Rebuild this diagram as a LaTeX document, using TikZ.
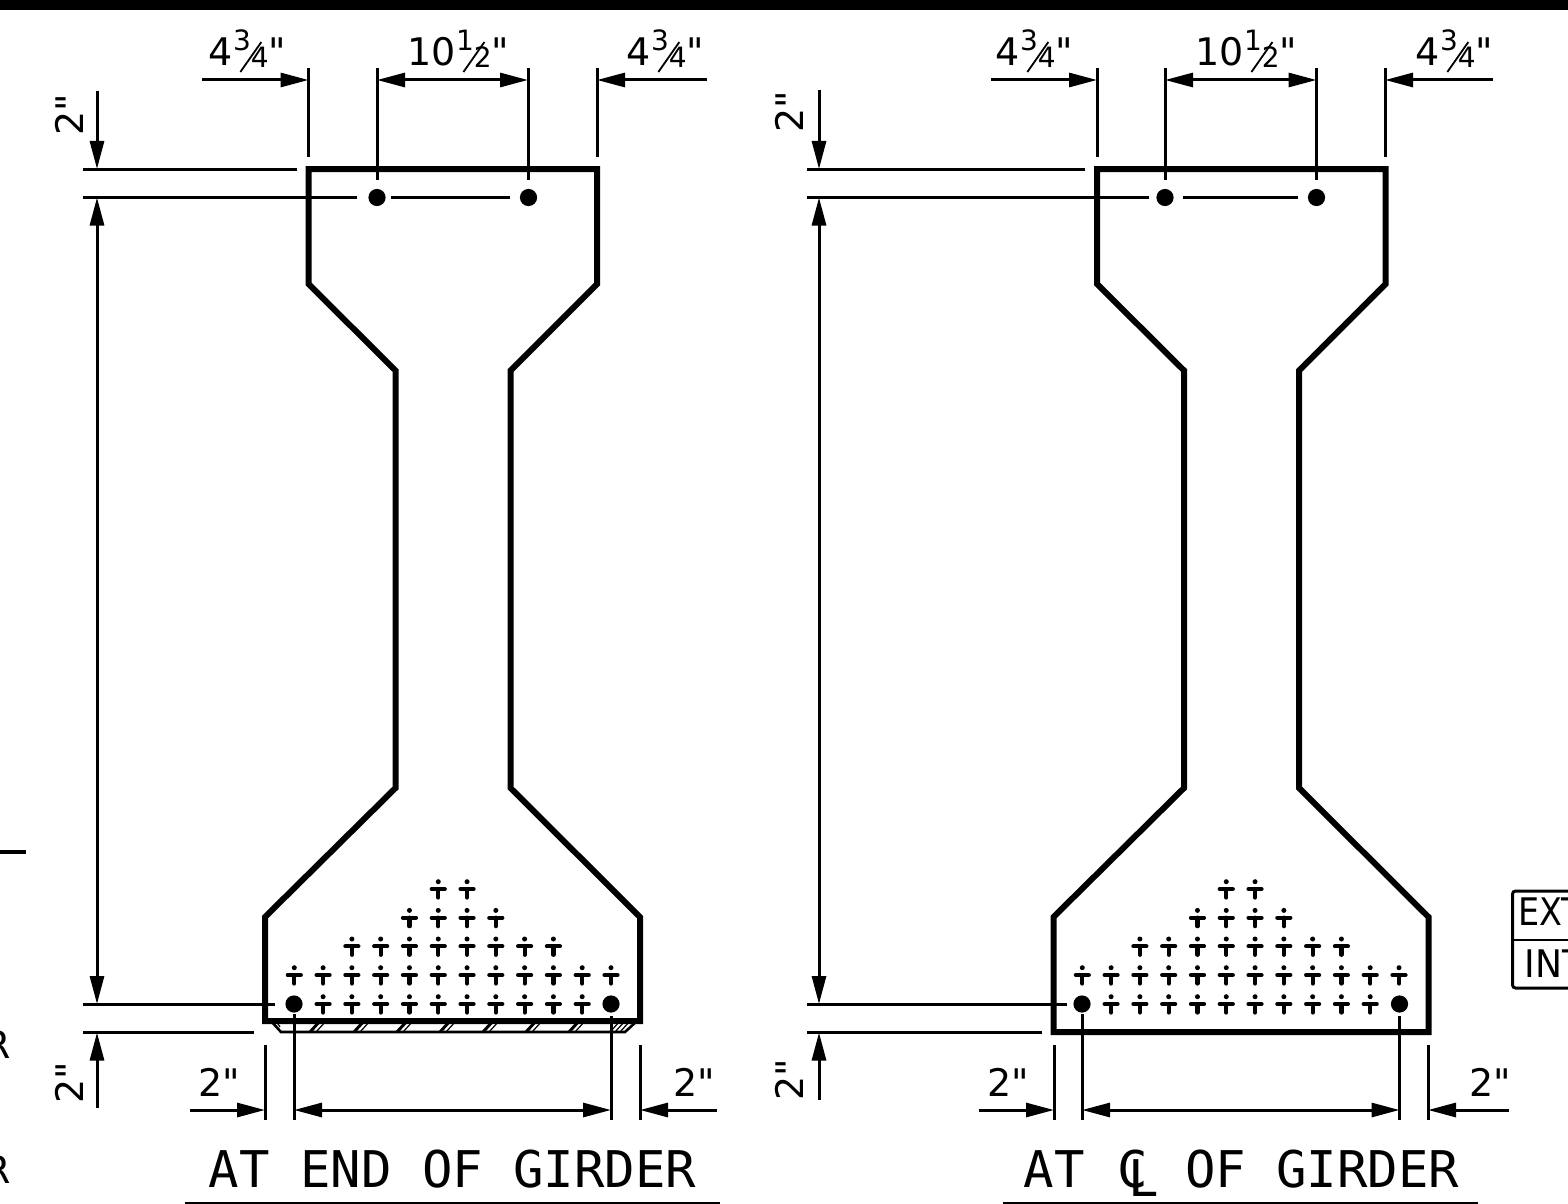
\documentclass[tikz,border=0pt]{standalone}
\usepackage{fontspec}
\usetikzlibrary{arrows.meta}
\newfontfamily\labelfont{DejaVu Sans}
\newfontfamily\titlefont{DejaVu Sans Mono}
% stacked fraction: small digits with a long slash between them
\newcommand{\fr}[2]{%
  \raisebox{7.8pt}{\fontsize{14}{14}\selectfont #1}%
  \makebox[0pt][c]{\raisebox{-4.65pt}{\rotatebox[origin=c]{-35}{\rule{0.9pt}{18.3pt}}}}%
  \raisebox{-1pt}{\fontsize{14}{14}\selectfont #2}}
\tikzset{
  thinline/.style={line width=1.5pt},
  wall/.style={line width=3pt,line join=miter},
  dimline/.style={line width=1.5pt,{Triangle[length=14pt,width=7pt]}-{Triangle[length=14pt,width=7pt]}},
  toarrow/.style={line width=1.5pt,-{Triangle[length=14pt,width=7pt]}},
  label/.style={font=\labelfont\fontsize{19}{19}\selectfont,anchor=base,inner sep=0pt,text=black},
  titletext/.style={font=\titlefont\fontsize{25.3}{25.3}\selectfont,anchor=base,inner sep=0pt,text=black},
  strandbar/.style={line width=2.1pt,line cap=round},
  anchorrod/.style={circle,fill=black,draw=none,minimum size=8.6pt,inner sep=0pt},
  hatchthick/.style={line width=1.5pt},
  hatchthin/.style={line width=0.6pt}
}
% one strand symbol centred on bar position
\newcommand{\strand}[2]{%
  \fill (#1,#2-7.3) circle (1.25pt);
  \draw[strandbar] (#1-6.5,#2) -- (#1+6.5,#2);
  \draw[strandbar] (#1,#2) -- (#1,#2+8.5);
}
% strand grid: #1 = x of first column
\newcommand{\strandgrid}[1]{%
  \foreach \c in {1,...,10}{\strand{#1+\c*28.79}{1004}}
  \foreach \c in {0,...,11}{\strand{#1+\c*28.79}{975}}
  \foreach \c in {2,...,9}{\strand{#1+\c*28.79}{946.3}}
  \foreach \c in {4,...,7}{\strand{#1+\c*28.79}{917.7}}
  \foreach \c in {5,6}{\strand{#1+\c*28.79}{889}}
}
\begin{document}
\begin{tikzpicture}[x=0.5pt,y=-0.5pt]
\useasboundingbox (0,0) rectangle (1568,1204);
\clip (0,0) rectangle (1568,1204);
\fill[white] (0,0) rectangle (1568,1204);
\fill[black] (0,0) rectangle (1568,10);

% ---------- left girder ----------
\draw[wall] (308.5,169) -- (597,169) -- (597,284) -- (510.5,370.5) -- (510.5,788) -- (640,917) -- (640,1021) -- (265,1021) -- (265,917) -- (395.5,788) -- (395.5,370.5) -- (308.5,284) -- cycle;
% chamfer strip
\draw[line width=1.3pt] (271,1021) -- (281,1032) -- (625,1032) -- (637,1021);
\foreach \h in {310,354,397,440,483,526,569}{
  \draw[hatchthick] (\h,1032) -- (\h+10,1021);
  \draw[hatchthin] (\h+6,1032) -- (\h+16,1021);
}
\draw[hatchthin] (276,1021) -- (280,1027);
\foreach \h in {610,615,620}{\draw[hatchthin] (\h,1032) -- (\h+10,1021);}
\strandgrid{294.3}
\node[anchorrod] (a1) at (377,197.5) {};
\node[anchorrod] (a2) at (528.5,197.5) {};
\node[anchorrod] (a3) at (294,1004) {};
\node[anchorrod] (a4) at (611,1004) {};

\coordinate (at1) at (308.5,68); \coordinate (ab1) at (308.5,157);
\coordinate (at2) at (377,68);   \coordinate (ab2) at (377,180);
\coordinate (at3) at (528,68);   \coordinate (ab3) at (528,180);
\coordinate (at4) at (597,68);   \coordinate (ab4) at (597,157);
\foreach \i in {1,...,4}{\draw[thinline] (at\i) -- (ab\i);}
\coordinate (af1) at (202,80); \coordinate (af2) at (308.5,80);
\coordinate (af3) at (377,80); \coordinate (af4) at (528,80);
\coordinate (af5) at (707,80); \coordinate (af6) at (597,80);
\draw[toarrow] (af1) -- (af2);
\draw[dimline] (af3) -- (af4);
\draw[toarrow] (af5) -- (af6);
\node[label] (al1) at (247.5,66) {4\fr{3}{4}"};
\node[label] (al2) at (458.5,66) {10\fr{1}{2}"};
\node[label] (al3) at (665.5,66) {4\fr{3}{4}"};

\draw[thinline] (83,169) -- (297,169);
\draw[thinline] (83,197.5) -- (357,197.5);
\draw[thinline] (391,197.5) -- (510,197.5);
\draw[thinline] (83,1004) -- (275,1004);
\draw[thinline] (83,1032.5) -- (254,1032.5);
\draw[toarrow] (97,91) -- (97,169);
\draw[dimline] (97,197.5) -- (97,1004);
\draw[toarrow] (97,1108) -- (97,1032.5);
\node[label,rotate=90] (al4) at (83,115) {2"};
\node[label,rotate=90] (al5) at (83,1083) {2"};

\draw[thinline] (265,1045) -- (265,1120);
\draw[thinline] (294,1014) -- (294,1120);
\draw[thinline] (611,1016) -- (611,1120);
\draw[thinline] (640,1045) -- (640,1120);
\draw[toarrow] (190,1110) -- (265,1110);
\draw[dimline] (294,1110) -- (611,1110);
\draw[toarrow] (717,1110) -- (640,1110);
\node[label] (al6) at (219,1096) {2"};
\node[label] (al7) at (694,1096) {2"};
\node[titletext] (at) at (452.5,1187) {AT END OF GIRDER};
\draw[line width=0.8pt] (185,1203.2) -- (720,1203.2);

% ---------- right girder ----------
\draw[wall] (1097,169) -- (1385.5,169) -- (1385.5,284) -- (1299,370.5) -- (1299,788) -- (1428.5,917) -- (1428.5,1032) -- (1053.5,1032) -- (1053.5,917) -- (1184,788) -- (1184,370.5) -- (1097,284) -- cycle;
\strandgrid{1082.3}
\node[anchorrod] (b1) at (1165,197.5) {};
\node[anchorrod] (b2) at (1316.5,197.5) {};
\node[anchorrod] (b3) at (1082,1004) {};
\node[anchorrod] (b4) at (1399.5,1004) {};

\coordinate (bt1) at (1097,68);   \coordinate (bb1) at (1097,157);
\coordinate (bt2) at (1165,68);   \coordinate (bb2) at (1165,180);
\coordinate (bt3) at (1316.5,68); \coordinate (bb3) at (1316.5,180);
\coordinate (bt4) at (1385,68);   \coordinate (bb4) at (1385,157);
\foreach \i in {1,...,4}{\draw[thinline] (bt\i) -- (bb\i);}
\coordinate (bf1) at (991,80);    \coordinate (bf2) at (1097,80);
\coordinate (bf3) at (1165,80);   \coordinate (bf4) at (1316.5,80);
\coordinate (bf5) at (1493,80);   \coordinate (bf6) at (1385,80);
\draw[toarrow] (bf1) -- (bf2);
\draw[dimline] (bf3) -- (bf4);
\draw[toarrow] (bf5) -- (bf6);
\node[label] (bl1) at (1034.5,66) {4\fr{3}{4}"};
\node[label] (bl2) at (1246.5,66) {10\fr{1}{2}"};
\node[label] (bl3) at (1454.5,66) {4\fr{3}{4}"};

\draw[thinline] (807,169) -- (1085,169);
\draw[thinline] (807,197.5) -- (1149,197.5);
\draw[thinline] (1183,197.5) -- (1298,197.5);
\draw[thinline] (807,1004) -- (1067,1004);
\draw[thinline] (807,1032.5) -- (1042,1032.5);
\draw[toarrow] (819,90) -- (819,169);
\draw[dimline] (819,197.5) -- (819,1004);
\draw[toarrow] (819,1100) -- (819,1032.5);
\node[label,rotate=90] (bl4) at (803,112) {2"};
\node[label,rotate=90] (bl5) at (803,1080) {2"};

\draw[thinline] (1054,1045) -- (1054,1120);
\draw[thinline] (1082,1014) -- (1082,1120);
\draw[thinline] (1399.5,1016) -- (1399.5,1120);
\draw[thinline] (1428,1045) -- (1428,1120);
\draw[toarrow] (979,1110) -- (1054,1110);
\draw[dimline] (1082,1110) -- (1399.5,1110);
\draw[toarrow] (1509,1110) -- (1428,1110);
\node[label] (bl6) at (1008,1096) {2"};
\node[label] (bl7) at (1490,1096) {2"};
\node[titletext] (bt) at (1241.5,1187) {AT\kern1pt{} C\kern3.5pt{} OF GIRDER};
\node[titletext] (bL) at (1144,1196.5) {L};
\draw[line width=0.8pt] (1003,1203.2) -- (1478,1203.2);

% ---------- cut-off items at the edges ----------
\draw[line width=1.8pt] (0,852) -- (26,852);
\node[label,anchor=base west] (r1) at (-16,1058) {R};
\node[label,anchor=base west] (r2) at (-16,1183) {R};
\draw[line width=1.5pt,rounded corners=1.5pt] (1600,891) -- (1512.5,891) -- (1512.5,988) -- (1600,988);
\draw[line width=1.3pt] (1512.5,940) -- (1600,940);
\node[label,anchor=base west] (ext) at (1518,925) {\scalebox{0.88}[1]{EXT}};
\node[label,anchor=base west] (int) at (1524,977) {\scalebox{0.95}[1]{INT}};
\end{tikzpicture}
\end{document}
